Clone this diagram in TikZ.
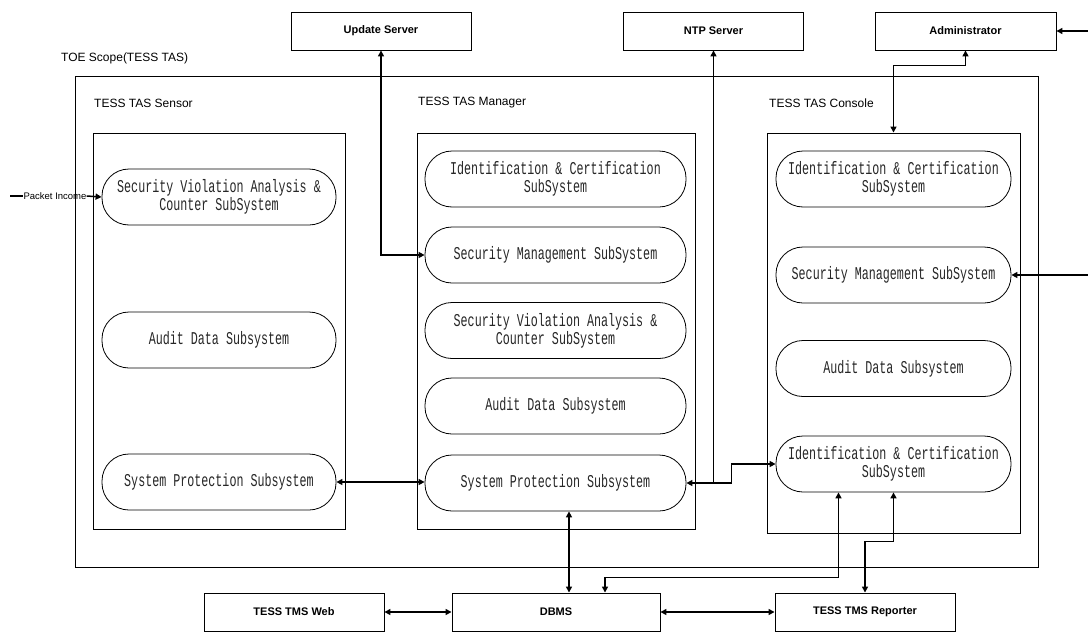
\documentclass[tikz,border=0pt]{standalone}
\usepackage{fontspec}
\setmainfont{Liberation Sans}
\newfontfamily\pillfont[FakeStretch=0.65]{Liberation Mono}
\usetikzlibrary{arrows.meta,calc,positioning}

\tikzset{
  pill/.style={draw, line width=0.8pt, rounded corners=27pt, minimum height=56pt, inner sep=0pt,
    align=center, text=black!85, font=\pillfont\fontsize{18}{18}\selectfont},
  frame/.style={draw, line width=0.9pt, inner sep=0pt},
  ext/.style={draw, line width=0.9pt, minimum width=180pt, minimum height=38pt,
    inner sep=0pt, font=\fontsize{11}{13}\selectfont\bfseries},
  grp/.style={anchor=west, inner sep=0pt, font=\fontsize{12}{14}\selectfont},
  conn/.style={line width=1.5pt, -{Triangle[length=6pt,width=6pt]}},
  biconn/.style={line width=1.5pt, {Triangle[length=6pt,width=6pt]}-{Triangle[length=6pt,width=6pt]}}
}

\begin{document}
\begin{tikzpicture}[x=1pt, y=-1pt]
  \useasboundingbox (0,0) rectangle (1088,632);

  % TOE scope
  \node[frame, minimum width=963pt, minimum height=491pt] (toe) at (556.5,321.5) {};
  \node[grp] (toelbl) at (61,58) {TOE Scope(TESS TAS)};

  % Group boxes
  \node[frame, minimum width=252pt, minimum height=396pt] (sensbox) at (219,331) {};
  \node[frame, minimum width=278pt, minimum height=396pt] (manbox) at (556,331) {};
  \node[frame, minimum width=253pt, minimum height=400pt] (consbox) at (893.5,333) {};
  \node[grp] (senslbl) at (94,103) {TESS TAS Sensor};
  \node[grp] (manlbl) at (418,103) {TESS TAS Manager};
  \node[grp] (conslbl) at (769,103) {TESS TAS Console};

  % Sensor subsystems
  \node[pill, minimum width=234pt] (sen1) at (219,197) {Security Violation Analysis \&\\Counter SubSystem};
  \node[pill, minimum width=234pt] (sen2) at (219,340) {Audit Data Subsystem};
  \node[pill, minimum width=234pt] (sen3) at (219,482) {System Protection Subsystem};

  % Manager subsystems
  \node[pill, minimum width=261pt] (man1) at (555.5,179) {Identification \& Certification\\SubSystem};
  \node[pill, minimum width=261pt] (man2) at (555.5,255) {Security Management SubSystem};
  \node[pill, minimum width=261pt] (man3) at (555.5,330.5) {Security Violation Analysis \&\\Counter SubSystem};
  \node[pill, minimum width=261pt] (man4) at (555.5,406) {Audit Data Subsystem};
  \node[pill, minimum width=261pt] (man5) at (555.5,483) {System Protection Subsystem};

  % Console subsystems
  \node[pill, minimum width=235pt] (con1) at (893.5,179) {Identification \& Certification\\SubSystem};
  \node[pill, minimum width=235pt] (con2) at (893.5,275) {Security Management SubSystem};
  \node[pill, minimum width=235pt] (con3) at (893.5,368.5) {Audit Data Subsystem};
  \node[pill, minimum width=235pt] (con4) at (893.5,464) {Identification \& Certification\\SubSystem};

  % External entities
  \node[ext] (upd) at (381,31) {Update Server};
  \node[ext] (ntp) at (713.5,31) {NTP Server};
  \node[ext, minimum width=181pt] (adm) at (965.5,31) {Administrator};
  \node[ext] (web) at (294,612) {TESS TMS Web};
  \node[ext, minimum width=208pt] (dbms) at (556,612) {DBMS};
  \node[ext] (rep) at (865,612) {TESS TMS Reporter};

  % Free ends
  \coordinate (pktin) at (10,196);
  \coordinate (admin) at (1092,31);
  \coordinate (conin) at (1092,275);

  % Packet income
  \node[inner sep=0pt, font=\fontsize{9.5}{11}\selectfont] (pkt) at (55,196) {Packet Income};
  \draw[line width=1.2pt] (pktin) -- (pkt.west);
  \draw[conn] (pkt.east) -- (sen1.west);

  % Manager links
  \draw[biconn] (upd.south) |- (man2.west);
  \draw[biconn] (ntp.south) |- (man5.east);
  \coordinate (ntpj) at (ntp.south |- man5.east);
  \draw[conn] (ntpj) -- ++(18,0) |- (con4.west);
  \draw[biconn] (sen3.east) -- (sen3.east -| man5.west);

  % Console links
  \draw[biconn] (adm.south) -- ++(0,15) -| (consbox.north);
  \draw[conn] (admin) -- (adm.east);
  \draw[conn] (conin) -- (con2.east);

  % Database links
  \coordinate (m5s) at ([xshift=13.5pt]man5.south);
  \draw[biconn] (m5s) -- (m5s |- dbms.north);
  \coordinate (c4a) at ([xshift=-55pt]con4.south);
  \coordinate (dba) at ([xshift=49pt]dbms.north);
  \draw[biconn] (c4a) |- ([yshift=15pt]dba) -- (dba);
  \draw[biconn] (con4.south) -- ++(0,49) -| (rep.north);
  \draw[biconn] (web.east) -- (dbms.west);
  \draw[biconn] (dbms.east) -- (rep.west);
\end{tikzpicture}
\end{document}
